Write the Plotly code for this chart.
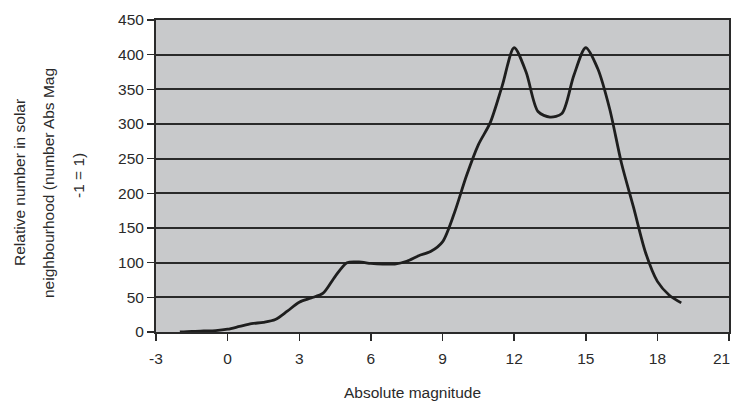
import plotly.graph_objects as go

# Data
abs_mag = [-2, -1.5, -1, -0.5, 0, 0.5, 1, 1.5, 2, 2.5, 3, 3.5, 4, 4.5, 5, 5.5, 6, 6.5, 7, 7.5,
           8, 8.5, 9, 9.5, 10, 10.5, 11, 11.5, 12, 12.5, 13, 13.5, 14, 14.5, 15, 15.5, 16,
           16.5, 17, 17.5, 18, 18.5, 19]
rel_number = [0, 1, 1.5, 2, 4, 8, 12, 14, 18, 30, 43, 49, 56, 80, 100, 101, 99, 98, 98, 102,
              110, 116, 130, 172, 225, 270, 302, 355, 410, 375, 318, 310, 315, 370, 410, 380, 322,
              243, 180, 115, 73, 53, 42]
x_ticks = [-3, 0, 3, 6, 9, 12, 15, 18, 21]
y_ticks = [0, 50, 100, 150, 200, 250, 300, 350, 400, 450]
y_title_lines = ["Relative number in solar", "neighbourhood (number Abs Mag", "-1 = 1)"]
x_title = "Absolute magnitude"

W, H = 732, 401
L, R, T, B = 156, 3, 20, 69
pw, ph = W - L - R, H - T - B
FONT = dict(family="Liberation Sans, Arial, sans-serif", size=15.5, color="#2a2a2a")

fig = go.Figure()
fig.add_trace(go.Scatter(
    x=abs_mag, y=rel_number, mode="lines",
    line=dict(color="#1e1e1e", width=2.8, shape="spline", smoothing=0.8),
    hoverinfo="skip", showlegend=False,
))

axis_common = dict(showline=True, linecolor="#2a2a2a", linewidth=2, mirror=True,
                   ticks="outside", ticklen=7, tickwidth=1.5, tickcolor="#2a2a2a",
                   zeroline=False, tickfont=FONT, automargin=False)
# last x label is drawn as an annotation so it can sit inside the page edge (as in the reference)
x_ticktext = [str(v) for v in x_ticks[:-1]] + [""]
fig.update_xaxes(range=[-3, 21], tickvals=x_ticks, ticktext=x_ticktext,
                 showgrid=False, ticklabelstandoff=4, **axis_common)
fig.update_yaxes(range=[0, 450], tickvals=y_ticks, ticktext=[str(v) for v in y_ticks],
                 showgrid=True, gridcolor="#2a2a2a", gridwidth=2, **axis_common)

annotations = []
# y title lines (x and y centres in page pixels)
for text, px, py in zip(y_title_lines, [20, 49, 78], [183, 183, 176]):
    annotations.append(dict(text=text, xref="paper", yref="paper",
                            x=(px - L) / pw, y=(H - B - py) / ph,
                            xanchor="center", yanchor="middle", textangle=-90,
                            showarrow=False, font=FONT))
annotations.append(dict(text=x_title, xref="paper", yref="paper",
                        x=(412 - L) / pw, y=(H - B - 392) / ph,
                        xanchor="center", yanchor="middle", showarrow=False, font=FONT))
annotations.append(dict(text=str(x_ticks[-1]), xref="x", yref="paper", x=x_ticks[-1],
                        y=(H - B - 358) / ph, xanchor="right", xshift=3,
                        yanchor="middle", showarrow=False, font=FONT))

fig.update_layout(width=W, height=H, margin=dict(l=L, r=R, t=T, b=B, pad=0, autoexpand=False),
                  paper_bgcolor="white", plot_bgcolor="#c8c9cb",
                  annotations=annotations, showlegend=False)
fig.write_html(
    "out.html",
    config={"displayModeBar": False, "staticPlot": True},
    post_script=("document.documentElement.style.margin='0';"
                 "document.body.style.margin='0';"
                 "document.documentElement.style.overflow='hidden';"
                 "document.body.style.overflow='hidden';"),
)
